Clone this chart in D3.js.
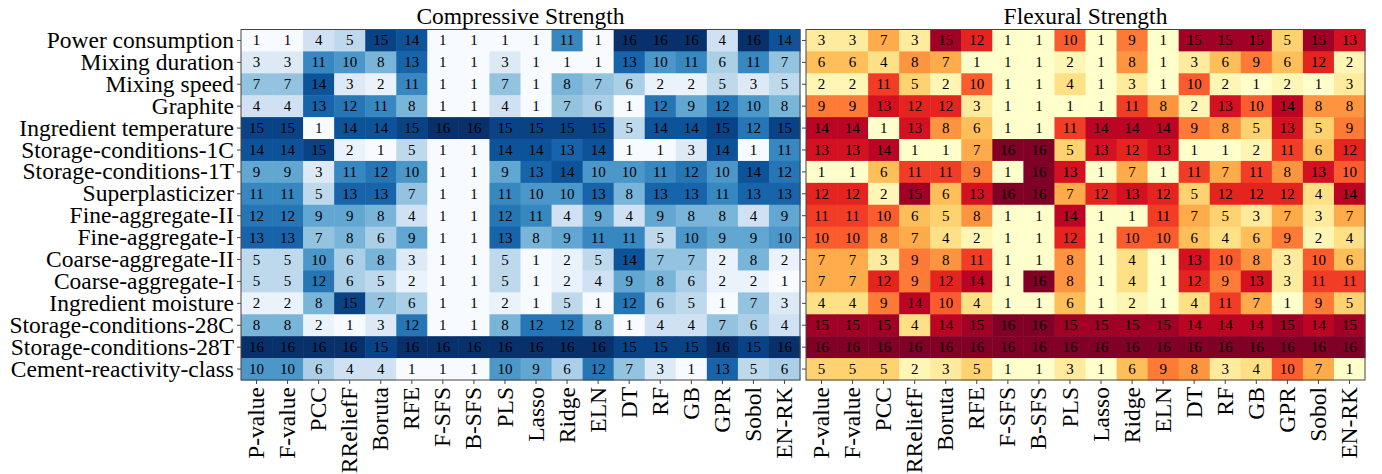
<!DOCTYPE html>
<html><head><meta charset="utf-8">
<script src="https://cdn.jsdelivr.net/npm/d3@7"></script>
<style>body{margin:0;background:#fff}svg text{font-family:"Liberation Serif","Times New Roman",serif;fill:#000}</style>
</head><body><svg id="c" width="1382" height="474"></svg>
<script>
const features = ["Power consumption","Mixing duration","Mixing speed","Graphite","Ingredient temperature","Storage-conditions-1C","Storage-conditions-1T","Superplasticizer","Fine-aggregate-II","Fine-aggregate-I","Coarse-aggregate-II","Coarse-aggregate-I","Ingredient moisture","Storage-conditions-28C","Storage-conditions-28T","Cement-reactivity-class"];
const methods = ["P-value","F-value","PCC","RReliefF","Boruta","RFE","F-SFS","B-SFS","PLS","Lasso","Ridge","ELN","DT","RF","GB","GPR","Sobol","EN-RK"];
const titles = ["Compressive Strength","Flexural Strength"];
const compressive = [
[1,1,4,5,15,14,1,1,1,1,11,1,16,16,16,4,16,14],
[3,3,11,10,8,13,1,1,3,1,1,1,13,10,11,6,11,7],
[7,7,14,3,2,11,1,1,7,1,8,7,6,2,2,5,3,5],
[4,4,13,12,11,8,1,1,4,1,7,6,1,12,9,12,10,8],
[15,15,1,14,14,15,16,16,15,15,15,15,5,14,14,15,12,15],
[14,14,15,2,1,5,1,1,14,14,13,14,1,1,3,14,1,11],
[9,9,3,11,12,10,1,1,9,13,14,10,10,11,12,10,14,12],
[11,11,5,13,13,7,1,1,11,10,10,13,8,13,13,11,13,13],
[12,12,9,9,8,4,1,1,12,11,4,9,4,9,8,8,4,9],
[13,13,7,8,6,9,1,1,13,8,9,11,11,5,10,9,9,10],
[5,5,10,6,8,3,1,1,5,1,2,5,14,7,7,2,8,2],
[5,5,12,6,5,2,1,1,5,1,2,4,9,8,6,2,2,1],
[2,2,8,15,7,6,1,1,2,1,5,1,12,6,5,1,7,3],
[8,8,2,1,3,12,1,1,8,12,12,8,1,4,4,7,6,4],
[16,16,16,16,15,16,16,16,16,16,16,16,15,15,15,16,15,16],
[10,10,6,4,4,1,1,1,10,9,6,12,7,3,1,13,5,6]
];
const flexural = [
[3,3,7,3,15,12,1,1,10,1,9,1,15,15,15,5,15,13],
[6,6,4,8,7,1,1,1,2,1,8,1,3,6,9,6,12,2],
[2,2,11,5,2,10,1,1,4,1,3,1,10,2,1,2,1,3],
[9,9,13,12,12,3,1,1,1,1,11,8,2,13,10,14,8,8],
[14,14,1,13,8,6,1,1,11,14,14,14,9,8,5,13,5,9],
[13,13,14,1,1,7,16,16,5,13,12,13,1,1,2,11,6,12],
[1,1,6,11,11,9,1,16,13,1,7,1,11,7,11,8,13,10],
[12,12,2,15,6,13,16,16,7,12,13,12,5,12,12,12,4,14],
[11,11,10,6,5,8,1,1,14,1,1,11,7,5,3,7,3,7],
[10,10,8,7,4,2,1,1,12,1,10,10,6,4,6,9,2,4],
[7,7,3,9,8,11,1,1,8,1,4,1,13,10,8,3,10,6],
[7,7,12,9,12,14,1,16,8,1,4,1,12,9,13,3,11,11],
[4,4,9,14,10,4,1,1,6,1,2,1,4,11,7,1,9,5],
[15,15,15,4,14,15,16,16,15,15,15,15,14,14,14,15,14,15],
[16,16,16,16,16,16,16,16,16,16,16,16,16,16,16,16,16,16],
[5,5,5,2,3,5,1,1,3,1,6,9,8,3,4,10,7,1]
];

const svg = d3.select("#c");
const plotTop = 29.5, plotBottom = 380;
const panels = [
  {x0:241, x1:800, data:compressive, interp:d3.interpolateBlues, title:titles[0], ylabels:true},
  {x0:806, x1:1365, data:flexural, interp:d3.interpolateYlOrRd, title:titles[1], ylabels:false}
];
const y = d3.scaleBand().domain(features).range([plotTop, plotBottom]);
panels.forEach(p => {
  const x = d3.scaleBand().domain(methods).range([p.x0, p.x1]);
  const color = d3.scaleSequential(p.interp).domain([1,16]);
  const g = svg.append("g");
  const cells = [];
  p.data.forEach((row,i) => row.forEach((v,j) => cells.push({f:features[i], m:methods[j], v})));
  g.selectAll("rect").data(cells).join("rect")
    .attr("x", d => x(d.m)).attr("y", d => y(d.f))
    .attr("width", x.bandwidth()+0.5).attr("height", y.bandwidth()+0.5)
    .attr("fill", d => color(d.v));
  g.selectAll("text.v").data(cells).join("text").attr("class","v")
    .attr("x", d => x(d.m)+x.bandwidth()/2).attr("y", d => y(d.f)+y.bandwidth()/2)
    .attr("text-anchor","middle").attr("dominant-baseline","central")
    .style("font-size","15px").text(d => d.v);
  g.append("rect").attr("x",p.x0).attr("y",plotTop).attr("width",p.x1-p.x0).attr("height",plotBottom-plotTop)
    .attr("fill","none").attr("stroke","#444").attr("stroke-width",1);
  const xa = g.append("g").attr("transform",`translate(0,${plotBottom})`)
    .call(d3.axisBottom(x).tickSize(4).tickPadding(3));
  xa.select(".domain").remove();
  xa.selectAll("line").attr("stroke","#444");
  xa.selectAll("text").attr("transform","rotate(-90)")
    .attr("text-anchor","end").attr("x",-7).attr("y",0).attr("dy","0.32em")
    .style("font-size","23.5px").attr("fill","#000");
  const ya = g.append("g").attr("transform",`translate(${p.x0},0)`)
    .call(d3.axisLeft(y).tickSize(4).tickPadding(3));
  ya.select(".domain").remove();
  ya.selectAll("line").attr("stroke","#444");
  if (p.ylabels) ya.selectAll("text").style("font-size","23.5px").attr("fill","#000");
  else ya.selectAll("text").remove();
  svg.append("text").attr("x",(p.x0+p.x1)/2).attr("y",plotTop-6).attr("text-anchor","middle")
    .style("font-size","23.5px").text(p.title);
});
</script></body></html>
